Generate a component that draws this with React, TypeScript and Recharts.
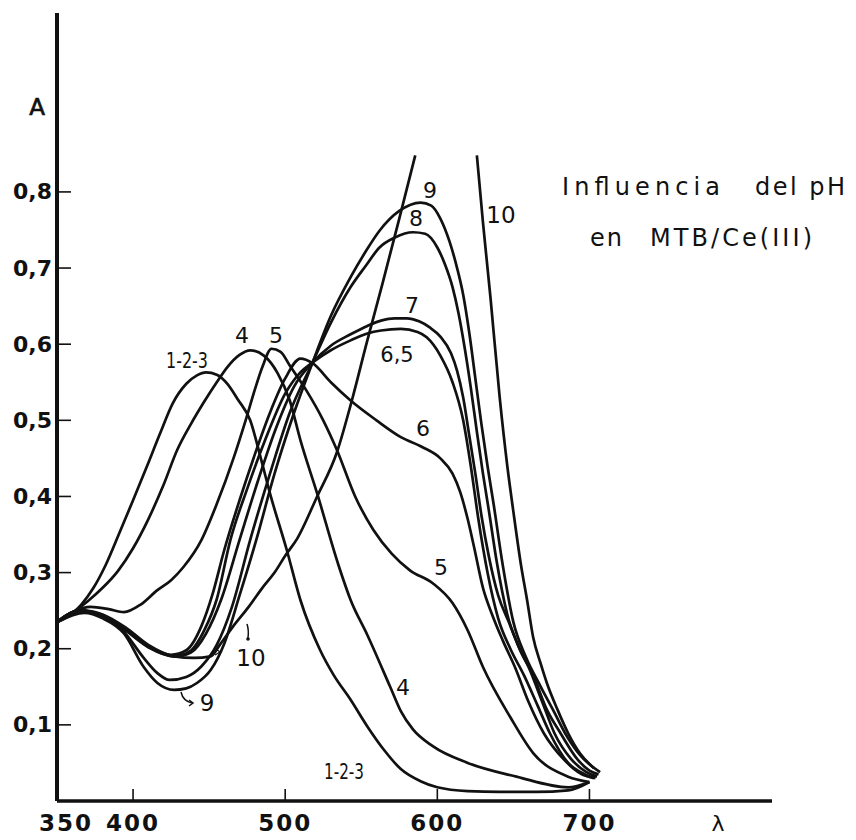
import React from 'react';
import { LineChart, Line, XAxis, YAxis } from 'recharts';

// Wavelength (nm) / absorbance arrays for each pH curve
const wl123 = [350, 358, 366, 374, 382, 391, 400, 409, 418, 426, 435, 442, 448, 455, 462, 469, 477, 484, 490, 501, 510, 523, 532, 543, 554, 565, 576, 589, 600, 620, 641, 665, 686, 700];
const abs123 = [0.235, 0.243, 0.258, 0.28, 0.31, 0.352, 0.395, 0.439, 0.484, 0.522, 0.548, 0.559, 0.563, 0.56, 0.548, 0.527, 0.5, 0.45, 0.404, 0.33, 0.264, 0.198, 0.165, 0.133, 0.098, 0.067, 0.042, 0.026, 0.018, 0.013, 0.012, 0.012, 0.014, 0.025];

const wl4 = [350, 360, 370, 380, 390, 400, 410, 420, 429, 438, 446, 455, 462, 470, 477, 486, 495, 503, 510, 521, 535, 543, 554, 569, 576, 584, 597, 620, 652, 686, 700];
const abs4 = [0.235, 0.247, 0.262, 0.28, 0.302, 0.332, 0.37, 0.415, 0.461, 0.495, 0.522, 0.55, 0.57, 0.586, 0.592, 0.585, 0.562, 0.526, 0.474, 0.404, 0.31, 0.264, 0.218, 0.15, 0.118, 0.094, 0.072, 0.05, 0.032, 0.018, 0.025];

const wl5 = [350, 362, 372, 384, 394, 405, 416, 425, 433, 445, 455, 466, 474, 480, 485, 491, 497, 503, 514, 525, 534, 546, 558, 570, 582, 597, 610, 620, 630, 648, 663, 686, 700];
const abs5 = [0.235, 0.25, 0.255, 0.252, 0.248, 0.258, 0.277, 0.29, 0.307, 0.343, 0.39, 0.45, 0.5, 0.54, 0.57, 0.594, 0.59, 0.572, 0.539, 0.5, 0.461, 0.4, 0.356, 0.325, 0.303, 0.286, 0.26, 0.224, 0.176, 0.11, 0.063, 0.032, 0.025];

const wl6 = [350, 365, 380, 395, 410, 425, 435, 445, 452, 460, 470, 480, 490, 500, 510, 518, 530, 543, 560, 576, 590, 602, 610, 615, 620, 624, 630, 636, 643, 651, 660, 670, 683, 695, 703];
const abs6 = [0.235, 0.25, 0.243, 0.225, 0.203, 0.192, 0.198, 0.23, 0.27, 0.33, 0.395, 0.455, 0.51, 0.555, 0.581, 0.575, 0.55, 0.526, 0.5, 0.478, 0.465, 0.45, 0.43, 0.406, 0.37, 0.335, 0.28, 0.245, 0.211, 0.176, 0.13, 0.089, 0.055, 0.035, 0.03];

const wl65 = [350, 365, 380, 395, 410, 427, 437, 447, 455, 464, 475, 487, 500, 510, 518, 530, 543, 554, 563, 576, 587, 593, 602, 610, 617, 622, 627, 633, 640, 648, 657, 666, 674, 686, 697, 704];
const abs65 = [0.235, 0.25, 0.243, 0.225, 0.203, 0.19, 0.196, 0.225, 0.265, 0.343, 0.41, 0.475, 0.535, 0.563, 0.576, 0.592, 0.605, 0.614, 0.618, 0.62, 0.616, 0.609, 0.585, 0.55, 0.5, 0.44, 0.37, 0.3, 0.24, 0.2, 0.165, 0.125, 0.089, 0.05, 0.035, 0.03];

const wl7 = [350, 365, 380, 395, 410, 428, 438, 448, 458, 470, 482, 494, 506, 518, 530, 543, 554, 563, 572, 580, 588, 595, 602, 609, 613, 617, 621, 625, 629, 634, 640, 647, 653, 660, 669, 677, 688, 698, 705];
const abs7 = [0.235, 0.25, 0.243, 0.224, 0.202, 0.19, 0.195, 0.22, 0.265, 0.343, 0.42, 0.49, 0.545, 0.576, 0.598, 0.613, 0.624, 0.631, 0.634, 0.634, 0.63, 0.622, 0.61, 0.588, 0.565, 0.53, 0.48, 0.43, 0.375, 0.32, 0.27, 0.235, 0.205, 0.176, 0.13, 0.089, 0.055, 0.038, 0.032];

const wl8 = [350, 365, 380, 394, 407, 416, 424, 435, 445, 455, 465, 477, 490, 503, 518, 530, 543, 553, 562, 572, 584, 592, 600, 605, 610, 614, 618, 622, 626, 630, 634, 639, 646, 654, 663, 672, 681, 692, 700, 706];
const abs8 = [0.235, 0.25, 0.243, 0.222, 0.188, 0.168, 0.159, 0.163, 0.177, 0.205, 0.255, 0.343, 0.43, 0.51, 0.576, 0.628, 0.675, 0.703, 0.727, 0.74, 0.747, 0.745, 0.727, 0.705, 0.675, 0.64, 0.595, 0.543, 0.485, 0.43, 0.38, 0.315, 0.245, 0.2, 0.165, 0.12, 0.089, 0.055, 0.04, 0.035];

const wl9 = [350, 368, 380, 394, 407, 416, 427, 435, 442, 451, 460, 470, 481, 493, 505, 518, 530, 543, 553, 562, 575, 589, 596, 602, 608, 613, 617, 621, 625, 629, 633, 637, 643, 650, 658, 668, 676, 684, 694, 702, 707];
const abs9 = [0.235, 0.247, 0.24, 0.22, 0.176, 0.155, 0.146, 0.148, 0.155, 0.172, 0.207, 0.27, 0.343, 0.43, 0.505, 0.576, 0.637, 0.688, 0.722, 0.749, 0.775, 0.786, 0.782, 0.765, 0.735, 0.7, 0.665, 0.615, 0.555, 0.495, 0.44, 0.39, 0.31, 0.235, 0.19, 0.15, 0.12, 0.089, 0.06, 0.045, 0.038];

// curve 10 leaves the top of the drawing between its two branches (null gap)
const wl10 = [350, 368, 380, 395, 410, 427, 440, 451, 457, 466, 476, 485, 493, 500, 508, 521, 534, 543, 554, 564, 575, 585.5, 605, 626, 630, 635, 641, 646, 650, 655, 659, 663, 668, 672, 679, 686, 694, 703];
const abs10 = [0.235, 0.25, 0.245, 0.228, 0.205, 0.19, 0.188, 0.19, 0.205, 0.23, 0.255, 0.28, 0.3, 0.322, 0.345, 0.4, 0.458, 0.52, 0.605, 0.68, 0.765, 0.848, null, 0.848, 0.76, 0.66, 0.53, 0.44, 0.38, 0.31, 0.264, 0.215, 0.18, 0.155, 0.12, 0.089, 0.062, 0.043];

const xTicks = [350, 400, 500, 600, 700];
const xTickMarks = [400, 500, 600, 700];
const yTicks = [0.1, 0.2, 0.3, 0.4, 0.5, 0.6, 0.7, 0.8];

const toData = (wl: number[], a: (number | null)[]) => wl.map((x, i) => ({ x, y: a[i] }));

const series = [
  { id: 'pH1-2-3', data: toData(wl123, abs123) },
  { id: 'pH4', data: toData(wl4, abs4) },
  { id: 'pH5', data: toData(wl5, abs5) },
  { id: 'pH6', data: toData(wl6, abs6) },
  { id: 'pH6.5', data: toData(wl65, abs65) },
  { id: 'pH7', data: toData(wl7, abs7) },
  { id: 'pH8', data: toData(wl8, abs8) },
  { id: 'pH9', data: toData(wl9, abs9) },
  { id: 'pH10', data: toData(wl10, abs10) },
];

const INK = '#111';

const YTick = (props: any) => {
  const { x, y, payload } = props;
  const label = Number(payload.value).toFixed(1).replace('.', ',');
  return (
    <g>
      <line x1={x} x2={x + 14} y1={y} y2={y} stroke={INK} strokeWidth={1.6} />
      <text x={x - 5} y={y} textAnchor="end" dominantBaseline="central" fontFamily="DejaVu Sans" fontWeight="bold" fontSize={22} fill={INK}>
        {label}
      </text>
    </g>
  );
};

const XTick = (props: any) => {
  const { x, y, payload } = props;
  const v = payload.value;
  const mark = xTickMarks.includes(v);
  const dx = v === 350 ? 9 : 0;
  return (
    <g>
      {mark && <line x1={x} x2={x} y1={y - 12} y2={y} stroke={INK} strokeWidth={1.6} />}
      <text x={x + dx} y={y + 22} textAnchor="middle" dominantBaseline="central" fontFamily="DejaVu Sans" fontWeight="bold" fontSize={23} letterSpacing={2} fill={INK}>
        {v}
      </text>
    </g>
  );
};

const labelStyle = { fontFamily: 'DejaVu Sans', fill: INK } as const;

export default function App() {
  return (
    <div style={{ position: 'absolute', left: 0, top: 0, width: 856, height: 840, background: '#fff' }}>
      <LineChart width={856} height={840} margin={{ top: 13, right: 84, bottom: 0, left: 10 }}>
        <XAxis
          dataKey="x"
          type="number"
          domain={[350, 820]}
          ticks={xTicks}
          interval={0}
          allowDataOverflow
          height={39}
          tickSize={0}
          tickMargin={0}
          tickLine={false}
          axisLine={{ stroke: INK, strokeWidth: 3.5 }}
          tick={<XTick />}
        />
        <YAxis
          type="number"
          domain={[0, 1.035]}
          ticks={yTicks}
          interval={0}
          allowDataOverflow
          width={47}
          tickSize={0}
          tickMargin={0}
          tickLine={false}
          axisLine={{ stroke: INK, strokeWidth: 4 }}
          tick={<YTick />}
        />
        {series.map((s) => (
          <Line
            key={s.id}
            name={s.id}
            data={s.data}
            dataKey="y"
            type="monotone"
            stroke={INK}
            strokeWidth={2.7}
            dot={false}
            activeDot={false}
            connectNulls={false}
            isAnimationActive={false}
          />
        ))}
      </LineChart>
      <svg width={856} height={840} style={{ position: 'absolute', left: 0, top: 0, pointerEvents: 'none' }}>
        <text x={37} y={107} textAnchor="middle" dominantBaseline="central" fontSize={23} stroke={INK} strokeWidth={0.7} {...labelStyle}>A</text>
        <text x={718} y={823} textAnchor="middle" dominantBaseline="central" fontSize={22} {...labelStyle}>λ</text>

        <text x={562} y={195} fontSize={24} textLength={158} lengthAdjust="spacing" {...labelStyle}>Influencia</text>
        <text x={755} y={195} fontSize={24} textLength={90} lengthAdjust="spacing" {...labelStyle}>del pH</text>
        <text x={590} y={246} fontSize={24} textLength={32} lengthAdjust="spacing" {...labelStyle}>en</text>
        <text x={650} y={246} fontSize={24} textLength={162} lengthAdjust="spacing" {...labelStyle}>MTB/Ce(III)</text>

        <text x={187} y={361} textAnchor="middle" dominantBaseline="central" fontSize={21} textLength={42} lengthAdjust="spacingAndGlyphs" {...labelStyle}>1-2-3</text>
        <text x={242} y={335} textAnchor="middle" dominantBaseline="central" fontSize={22} {...labelStyle}>4</text>
        <text x={276} y={335} textAnchor="middle" dominantBaseline="central" fontSize={22} {...labelStyle}>5</text>
        <text x={412} y={305} textAnchor="middle" dominantBaseline="central" fontSize={22} {...labelStyle}>7</text>
        <text x={397} y={355} textAnchor="middle" dominantBaseline="central" fontSize={21} {...labelStyle}>6,5</text>
        <text x={423} y={428} textAnchor="middle" dominantBaseline="central" fontSize={22} {...labelStyle}>6</text>
        <text x={441} y={567} textAnchor="middle" dominantBaseline="central" fontSize={22} {...labelStyle}>5</text>
        <text x={430} y={190} textAnchor="middle" dominantBaseline="central" fontSize={22} {...labelStyle}>9</text>
        <text x={416} y={218} textAnchor="middle" dominantBaseline="central" fontSize={22} {...labelStyle}>8</text>
        <text x={501} y={215} textAnchor="middle" dominantBaseline="central" fontSize={23} {...labelStyle}>10</text>
        <text x={403} y={687} textAnchor="middle" dominantBaseline="central" fontSize={22} {...labelStyle}>4</text>
        <text x={344} y={772} textAnchor="middle" dominantBaseline="central" fontSize={21} textLength={40} lengthAdjust="spacingAndGlyphs" {...labelStyle}>1-2-3</text>
        <text x={251} y={658} textAnchor="middle" dominantBaseline="central" fontSize={23} {...labelStyle}>10</text>
        <text x={207} y={703} textAnchor="middle" dominantBaseline="central" fontSize={23} {...labelStyle}>9</text>

        <path d="M181 692 Q183 701 192 703" fill="none" stroke={INK} strokeWidth={1.5} />
        <path d="M189 700 L193 703 L189 706" fill="none" stroke={INK} strokeWidth={1.5} />
        <path d="M247 624 Q249 630 248 638" fill="none" stroke={INK} strokeWidth={1.5} />
        <circle cx={248} cy={639} r={1.8} fill={INK} />
        <path d="M216 649 L220 652 L215 655" fill="none" stroke={INK} strokeWidth={1.2} />
      </svg>
    </div>
  );
}
